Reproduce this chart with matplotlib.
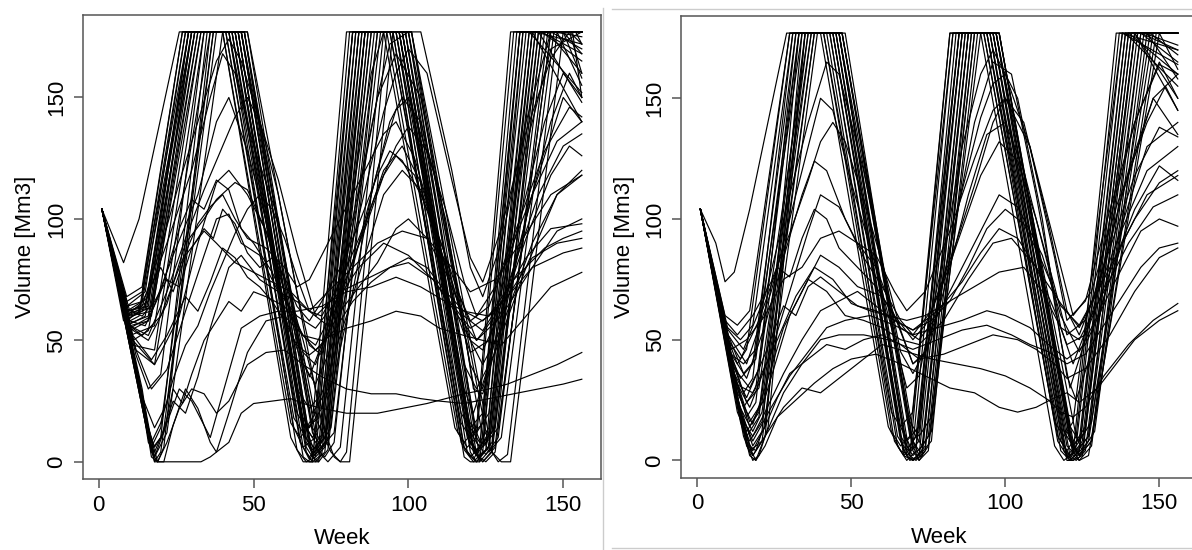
import matplotlib.pyplot as plt
from matplotlib.lines import Line2D

plt.rcParams['font.family'] = ['Liberation Sans', 'DejaVu Sans']

# turning points (week, volume in Mm3) of each simulated run
left_full = [
    [(1, 104), (8, 82), (13, 100), (26, 177), (40, 177), (62, 10), (66, 0), (69, 0), (81, 177), (96, 177), (118, 5), (121, 0), (124, 4), (136, 177), (156, 177)],
    [(1, 104), (9, 68), (14, 72), (27, 177), (42, 177), (64, 5), (67, 0), (70, 2), (82, 177), (95, 177), (117, 8), (120, 2), (123, 6), (135, 177), (156, 177)],
    [(1, 104), (9, 64), (15, 70), (28, 177), (43, 177), (65, 8), (68, 2), (71, 6), (83, 177), (97, 177), (119, 4), (122, 0), (125, 5), (137, 177), (150, 177), (156, 168)],
    [(1, 104), (9, 60), (16, 68), (29, 177), (44, 177), (66, 6), (68, 1), (72, 8), (84, 177), (96, 177), (118, 6), (121, 1), (124, 8), (138, 177), (152, 177), (156, 160)],
    [(1, 104), (8, 58), (17, 64), (30, 177), (45, 177), (66, 12), (69, 5), (73, 10), (85, 177), (98, 177), (120, 8), (122, 3), (126, 10), (139, 177), (156, 177)],
    [(1, 104), (9, 56), (15, 60), (31, 177), (44, 177), (67, 4), (69, 0), (72, 3), (86, 177), (97, 177), (119, 10), (122, 5), (127, 12), (140, 177), (153, 177), (156, 150)],
    [(1, 104), (10, 54), (16, 58), (32, 177), (46, 177), (67, 14), (70, 8), (74, 14), (86, 177), (99, 177), (121, 6), (123, 2), (127, 8), (141, 177), (156, 172)],
    [(1, 104), (10, 52), (18, 56), (33, 177), (47, 177), (68, 10), (70, 3), (74, 8), (87, 177), (100, 177), (122, 3), (124, 0), (128, 6), (142, 177), (156, 177)],
    [(1, 104), (12, 40), (16, 8), (18, 4), (20, 10), (35, 177), (45, 177), (67, 8), (70, 2), (73, 6), (88, 177), (98, 177), (120, 12), (123, 6), (128, 14), (143, 177), (156, 165)],
    [(1, 104), (13, 34), (17, 2), (19, 0), (21, 6), (36, 177), (47, 177), (69, 2), (71, 0), (74, 5), (89, 177), (99, 177), (121, 4), (124, 0), (127, 4), (144, 177), (156, 177)],
    [(1, 104), (14, 28), (17, 6), (20, 14), (37, 177), (48, 177), (70, 6), (73, 2), (76, 8), (90, 177), (100, 177), (122, 8), (125, 3), (129, 10), (145, 177), (156, 160)],
    [(1, 104), (15, 20), (18, 0), (20, 4), (38, 177), (46, 177), (69, 12), (72, 6), (76, 12), (91, 177), (101, 177), (123, 2), (125, 0), (128, 4), (146, 177), (156, 170)],
    [(1, 104), (16, 10), (18, 2), (22, 12), (40, 177), (47, 177), (71, 4), (74, 0), (78, 6), (92, 177), (101, 177), (124, 10), (126, 4), (130, 10), (147, 177), (156, 175)],
    [(1, 104), (9, 62), (14, 66), (30, 177), (48, 177), (72, 16), (76, 2), (78, 0), (80, 4), (93, 177), (100, 177), (126, 6), (129, 0), (132, 3), (148, 177), (156, 155)],
    [(1, 104), (10, 58), (13, 60), (28, 177), (41, 177), (63, 14), (66, 6), (70, 10), (82, 177), (93, 177), (116, 12), (119, 6), (122, 10), (134, 177), (156, 177)],
    [(1, 104), (9, 66), (14, 70), (27, 177), (40, 177), (62, 16), (65, 10), (69, 16), (80, 177), (92, 177), (115, 14), (118, 8), (122, 14), (133, 177), (150, 177), (156, 158)],
    [(1, 104), (10, 60), (17, 62), (31, 177), (43, 177), (66, 2), (68, 0), (71, 0), (84, 177), (95, 177), (118, 2), (120, 0), (123, 0), (137, 177), (156, 177)],
    [(1, 104), (11, 50), (16, 54), (33, 177), (45, 177), (67, 6), (69, 2), (73, 8), (86, 177), (98, 177), (120, 4), (122, 0), (126, 6), (140, 177), (156, 140)],
    [(1, 104), (9, 62), (16, 64), (29, 177), (42, 177), (64, 20), (67, 14), (71, 18), (83, 177), (94, 177), (117, 16), (120, 10), (124, 16), (136, 177), (156, 177)],
    [(1, 104), (12, 44), (16, 30), (20, 36), (34, 177), (46, 177), (68, 8), (71, 4), (74, 10), (88, 177), (97, 177), (120, 6), (123, 2), (126, 6), (142, 177), (156, 148)],
    [(1, 104), (12, 46), (18, 40), (36, 177), (46, 177), (70, 18), (75, 4), (78, 0), (81, 0), (95, 177), (101, 177), (127, 4), (130, 0), (133, 0), (150, 177), (156, 177)],
    [(1, 104), (9, 58), (13, 62), (29, 177), (41, 177), (63, 18), (66, 12), (70, 20), (82, 177), (94, 177), (117, 20), (120, 14), (124, 20), (136, 177), (154, 177), (156, 172)],
    [(1, 104), (10, 55), (17, 60), (32, 177), (45, 177), (67, 10), (69, 4), (72, 10), (86, 177), (97, 177), (120, 10), (122, 4), (126, 12), (141, 177), (156, 177)],
    [(1, 104), (11, 48), (18, 46), (34, 177), (46, 177), (68, 6), (70, 0), (73, 4), (87, 177), (98, 177), (121, 6), (123, 0), (127, 6), (143, 177), (156, 168)],
    [(1, 104), (13, 30), (18, 14), (22, 24), (37, 177), (47, 177), (69, 14), (72, 8), (75, 14), (90, 177), (99, 177), (122, 12), (124, 6), (129, 14), (146, 177), (156, 177)],
    [(1, 104), (9, 60), (15, 64), (30, 177), (43, 177), (65, 20), (68, 14), (72, 22), (84, 177), (96, 177), (119, 18), (122, 12), (126, 20), (139, 177), (156, 152)],
    [(1, 104), (10, 62), (16, 66), (31, 177), (44, 177), (66, 16), (69, 10), (72, 16), (85, 177), (97, 177), (120, 14), (123, 8), (126, 14), (140, 177), (156, 177)],
]

left_partial = [
    [(1, 104), (9, 60), (14, 62), (22, 90), (30, 120), (36, 150), (40, 168), (44, 160), (50, 130), (58, 100), (66, 40), (69, 20), (74, 30), (82, 110), (88, 160), (92, 177), (98, 177), (118, 30), (121, 20), (126, 40), (136, 120), (146, 170), (156, 177)],
    [(1, 104), (10, 56), (16, 58), (24, 85), (32, 110), (38, 140), (42, 150), (48, 128), (56, 90), (64, 50), (68, 35), (74, 55), (82, 100), (90, 150), (96, 168), (104, 150), (114, 80), (120, 40), (124, 30), (130, 60), (140, 110), (150, 150), (156, 140)],
    [(1, 104), (11, 50), (18, 40), (26, 60), (32, 90), (38, 115), (42, 120), (48, 110), (54, 95), (60, 70), (66, 45), (70, 40), (76, 60), (84, 90), (92, 120), (98, 130), (104, 115), (112, 80), (118, 40), (122, 30), (128, 45), (138, 80), (148, 110), (156, 120)],
    [(1, 104), (10, 56), (14, 52), (20, 60), (26, 80), (32, 98), (36, 105), (40, 110), (44, 100), (48, 92), (54, 88), (60, 80), (64, 72), (68, 75), (74, 90), (80, 105), (86, 120), (92, 135), (96, 140), (102, 125), (110, 90), (116, 60), (120, 45), (126, 50), (134, 80), (142, 110), (150, 130), (156, 135)],
    [(1, 104), (10, 55), (16, 50), (22, 65), (28, 90), (34, 100), (38, 108), (44, 115), (48, 112), (54, 95), (60, 75), (66, 50), (70, 30), (72, 22), (76, 35), (82, 70), (88, 110), (94, 140), (98, 150), (104, 140), (112, 100), (118, 55), (121, 30), (124, 28), (130, 55), (138, 100), (146, 140), (152, 160), (156, 150)],
    [(1, 104), (9, 61), (15, 63), (29, 177), (42, 177), (60, 60), (66, 40), (70, 32), (76, 50), (84, 90), (90, 120), (96, 145), (100, 150), (108, 120), (116, 70), (122, 50), (128, 60), (136, 100), (144, 140), (150, 160), (156, 150)],
    [(1, 104), (10, 57), (16, 60), (30, 177), (44, 177), (64, 30), (68, 22), (72, 28), (80, 60), (86, 85), (92, 110), (98, 120), (104, 112), (112, 85), (118, 55), (124, 40), (130, 55), (140, 90), (148, 110), (156, 118)],
    [(1, 104), (9, 63), (14, 60), (18, 66), (22, 75), (26, 72), (30, 88), (34, 96), (37, 92), (40, 104), (44, 98), (48, 86), (52, 80), (56, 84), (60, 76), (64, 64), (68, 58), (72, 66), (78, 80), (84, 98), (90, 118), (94, 128), (98, 124), (104, 110), (110, 92), (116, 70), (120, 58), (126, 64), (132, 84), (140, 110), (148, 132), (156, 140)],
    [(1, 104), (10, 58), (15, 56), (20, 70), (26, 96), (30, 108), (34, 104), (38, 116), (42, 112), (46, 96), (50, 90), (56, 78), (62, 62), (66, 52), (70, 48), (74, 58), (80, 76), (86, 96), (92, 118), (96, 126), (102, 118), (108, 96), (114, 74), (120, 50), (124, 46), (130, 62), (138, 92), (146, 118), (152, 130), (156, 126)],
    [(1, 104), (9, 62), (14, 64), (20, 88), (26, 115), (32, 140), (38, 165), (42, 174), (46, 165), (52, 140), (58, 110), (64, 70), (68, 48), (72, 44), (78, 70), (84, 110), (90, 150), (94, 172), (100, 177), (104, 177), (114, 120), (120, 80), (124, 68), (130, 90), (138, 140), (146, 177), (156, 177)],
    [(1, 104), (10, 56), (16, 52), (22, 70), (28, 92), (34, 112), (40, 130), (44, 142), (48, 150), (52, 140), (58, 116), (64, 86), (70, 60), (74, 56), (80, 80), (86, 112), (92, 144), (96, 160), (100, 170), (106, 160), (114, 116), (120, 84), (124, 74), (130, 96), (138, 136), (146, 166), (152, 177), (156, 172)],
]

left_low = [
    [(1, 104), (12, 46), (17, 30), (22, 38), (28, 62), (34, 85), (38, 100), (42, 102), (46, 90), (52, 85), (58, 70), (64, 60), (70, 55), (76, 65), (84, 80), (92, 90), (100, 85), (108, 75), (116, 60), (122, 50), (130, 60), (140, 80), (148, 95), (156, 100)],
    [(1, 104), (14, 30), (17, 5), (20, 10), (24, 25), (28, 20), (32, 35), (36, 55), (42, 80), (46, 85), (52, 75), (58, 70), (64, 66), (70, 60), (78, 70), (86, 75), (94, 80), (100, 82), (108, 75), (114, 65), (120, 55), (126, 60), (134, 75), (144, 88), (150, 92), (156, 95)],
    [(1, 104), (15, 22), (18, 2), (22, 16), (26, 30), (30, 25), (34, 15), (36, 10), (40, 28), (46, 55), (52, 60), (58, 62), (64, 62), (72, 64), (80, 70), (88, 72), (96, 76), (104, 72), (112, 66), (118, 62), (126, 60), (132, 68), (140, 80), (150, 86), (156, 88)],
    [(1, 104), (16, 14), (19, 0), (21, 0), (24, 15), (28, 30), (32, 22), (36, 8), (38, 4), (42, 20), (48, 45), (54, 58), (60, 60), (66, 52), (72, 50), (80, 55), (88, 58), (96, 62), (104, 60), (110, 55), (118, 52), (124, 50), (130, 48), (138, 60), (146, 72), (156, 78)],
    [(1, 104), (16, 10), (18, 0), (21, 0), (24, 0), (28, 0), (33, 0), (36, 2), (42, 8), (46, 20), (50, 24), (56, 25), (62, 26), (66, 24), (72, 22), (80, 20), (90, 20), (98, 22), (106, 24), (112, 26), (118, 28), (126, 30), (132, 32), (140, 36), (148, 40), (156, 45)],
    [(1, 104), (17, 4), (19, 0), (22, 8), (26, 22), (30, 30), (34, 28), (38, 20), (42, 25), (48, 40), (54, 45), (60, 46), (66, 40), (72, 35), (80, 30), (88, 28), (96, 28), (104, 26), (110, 25), (118, 24), (126, 26), (134, 28), (142, 30), (150, 32), (156, 34)],
    [(1, 104), (9, 64), (14, 66), (20, 80), (24, 70), (28, 85), (34, 95), (38, 90), (44, 82), (50, 78), (56, 74), (62, 70), (68, 62), (74, 70), (82, 80), (90, 90), (98, 95), (106, 92), (114, 80), (120, 70), (128, 75), (136, 90), (146, 110), (156, 118)],
    [(1, 104), (11, 52), (17, 42), (22, 52), (28, 68), (32, 62), (36, 74), (40, 88), (44, 84), (48, 76), (52, 72), (56, 66), (60, 58), (64, 48), (68, 44), (72, 48), (78, 62), (84, 72), (90, 82), (96, 96), (100, 100), (106, 92), (112, 78), (118, 60), (124, 54), (130, 66), (138, 84), (146, 96), (156, 98)],
    [(1, 104), (15, 18), (18, 6), (21, 12), (24, 30), (27, 24), (30, 36), (34, 50), (38, 58), (42, 66), (46, 62), (50, 70), (54, 68), (60, 64), (66, 52), (70, 46), (76, 54), (82, 66), (88, 74), (94, 80), (100, 84), (106, 80), (112, 70), (118, 62), (124, 58), (132, 68), (140, 84), (148, 90), (156, 92)],
    [(1, 104), (14, 26), (17, 8), (20, 16), (24, 34), (28, 48), (32, 56), (36, 70), (40, 82), (44, 94), (48, 104), (52, 110), (56, 104), (60, 92), (64, 76), (68, 62), (72, 60), (78, 74), (84, 92), (90, 112), (96, 130), (100, 138), (106, 128), (112, 104), (118, 74), (122, 60), (128, 72), (136, 100), (144, 128), (152, 146), (156, 142)],
]

right_full = [
    [(1, 104), (6, 90), (9, 74), (12, 78), (17, 104), (29, 177), (40, 177), (62, 14), (66, 4), (69, 2), (82, 177), (92, 177), (116, 6), (119, 0), (122, 3), (136, 177), (156, 177)],
    [(1, 104), (10, 50), (13, 40), (16, 46), (30, 177), (42, 177), (64, 8), (67, 2), (70, 6), (83, 177), (94, 177), (117, 8), (120, 2), (123, 6), (138, 177), (156, 170)],
    [(1, 104), (11, 42), (15, 28), (18, 34), (31, 177), (43, 177), (65, 6), (68, 0), (71, 4), (84, 177), (95, 177), (118, 4), (121, 0), (124, 4), (139, 177), (156, 177)],
    [(1, 104), (12, 36), (16, 18), (19, 24), (32, 177), (44, 177), (66, 10), (69, 4), (72, 8), (85, 177), (94, 177), (119, 6), (121, 1), (125, 8), (140, 177), (156, 160)],
    [(1, 104), (13, 26), (17, 6), (19, 4), (21, 12), (33, 177), (45, 177), (67, 4), (69, 0), (72, 2), (86, 177), (96, 177), (120, 2), (122, 0), (125, 4), (141, 177), (156, 177)],
    [(1, 104), (14, 18), (17, 2), (19, 0), (22, 10), (34, 177), (46, 177), (68, 6), (70, 2), (73, 6), (87, 177), (97, 177), (121, 8), (123, 3), (127, 10), (142, 177), (156, 150)],
    [(1, 104), (15, 10), (18, 0), (20, 2), (23, 14), (35, 177), (46, 177), (69, 2), (71, 0), (74, 4), (88, 177), (96, 177), (121, 2), (123, 0), (126, 4), (143, 177), (156, 177)],
    [(1, 104), (12, 38), (17, 30), (20, 38), (36, 177), (47, 177), (69, 10), (72, 4), (75, 10), (89, 177), (97, 177), (122, 6), (124, 2), (128, 8), (144, 177), (156, 165)],
    [(1, 104), (9, 56), (14, 50), (18, 56), (31, 177), (41, 177), (63, 12), (66, 6), (69, 10), (83, 177), (93, 177), (117, 10), (120, 4), (123, 10), (137, 177), (156, 177)],
    [(1, 104), (10, 48), (16, 24), (20, 30), (37, 177), (48, 177), (70, 4), (72, 0), (75, 4), (90, 177), (98, 177), (122, 4), (124, 0), (128, 6), (145, 177), (156, 172)],
    [(1, 104), (13, 24), (18, 12), (21, 20), (38, 177), (47, 177), (70, 12), (73, 6), (76, 12), (91, 177), (97, 177), (123, 10), (125, 4), (129, 12), (146, 177), (156, 158)],
    [(1, 104), (11, 44), (15, 40), (19, 46), (34, 177), (44, 177), (66, 14), (68, 8), (72, 14), (86, 177), (95, 177), (119, 12), (122, 6), (126, 14), (141, 177), (156, 177)],
    [(1, 104), (14, 16), (17, 4), (21, 8), (39, 177), (46, 177), (69, 16), (72, 10), (76, 18), (92, 177), (98, 177), (121, 14), (124, 8), (128, 16), (147, 177), (156, 168)],
    [(1, 104), (12, 30), (18, 6), (22, 14), (35, 177), (45, 177), (67, 2), (70, 0), (73, 2), (87, 177), (96, 177), (120, 0), (122, 0), (125, 2), (142, 177), (156, 177)],
    [(1, 104), (10, 52), (15, 36), (19, 42), (33, 177), (43, 177), (65, 10), (68, 4), (71, 10), (85, 177), (94, 177), (118, 8), (121, 2), (124, 8), (139, 177), (156, 155)],
    [(1, 104), (13, 22), (16, 10), (20, 18), (36, 177), (46, 177), (68, 4), (70, 0), (74, 6), (88, 177), (97, 177), (120, 6), (123, 2), (127, 8), (148, 177), (156, 177)],
    [(1, 104), (11, 40), (17, 16), (21, 24), (37, 177), (47, 177), (70, 8), (72, 2), (76, 8), (89, 177), (98, 177), (122, 2), (124, 0), (127, 2), (150, 177), (156, 162)],
    [(1, 104), (10, 46), (14, 34), (18, 40), (32, 177), (44, 177), (66, 8), (68, 2), (71, 6), (85, 177), (95, 177), (119, 4), (121, 0), (124, 4), (140, 177), (156, 177)],
    [(1, 104), (12, 28), (16, 12), (20, 20), (35, 177), (46, 177), (68, 2), (70, 0), (73, 4), (88, 177), (97, 177), (121, 10), (123, 4), (127, 10), (144, 177), (156, 170)],
    [(1, 104), (9, 60), (13, 56), (17, 62), (30, 177), (41, 177), (63, 20), (66, 14), (70, 20), (82, 177), (93, 177), (116, 16), (119, 10), (122, 16), (138, 177), (156, 164)],
    [(1, 104), (13, 20), (17, 8), (21, 16), (38, 177), (47, 177), (70, 6), (72, 0), (75, 6), (90, 177), (98, 177), (122, 8), (124, 2), (128, 8), (149, 177), (156, 177)],
    [(1, 104), (11, 38), (15, 22), (19, 30), (33, 177), (45, 177), (67, 12), (69, 6), (72, 12), (86, 177), (96, 177), (120, 12), (122, 6), (126, 12), (142, 177), (156, 145)],
]

right_partial = [
    [(1, 104), (10, 52), (16, 40), (24, 70), (30, 100), (36, 130), (40, 150), (44, 145), (50, 115), (58, 80), (64, 50), (68, 30), (72, 35), (80, 85), (86, 130), (92, 160), (96, 170), (104, 150), (112, 100), (118, 50), (121, 30), (126, 50), (134, 100), (142, 140), (150, 165), (156, 150)],
    [(1, 104), (12, 34), (17, 22), (24, 45), (30, 70), (36, 95), (40, 110), (46, 105), (52, 90), (58, 80), (64, 60), (70, 40), (74, 45), (80, 70), (88, 110), (94, 135), (100, 140), (106, 120), (114, 80), (120, 35), (123, 25), (128, 45), (136, 90), (146, 130), (156, 140)],
    [(1, 104), (11, 46), (16, 50), (22, 60), (28, 75), (34, 80), (40, 92), (46, 95), (52, 90), (58, 85), (64, 70), (68, 62), (74, 70), (82, 95), (90, 125), (96, 145), (100, 150), (108, 130), (116, 90), (122, 60), (128, 70), (136, 105), (146, 140), (152, 155), (156, 145)],
    [(1, 104), (10, 54), (15, 46), (22, 68), (30, 110), (36, 140), (42, 165), (46, 160), (54, 120), (62, 70), (66, 45), (70, 36), (76, 50), (84, 100), (90, 140), (96, 165), (102, 160), (110, 110), (118, 55), (122, 40), (128, 60), (138, 110), (148, 150), (156, 135)],
    [(1, 104), (10, 50), (14, 42), (20, 58), (26, 80), (30, 76), (34, 92), (38, 104), (42, 100), (46, 88), (52, 80), (58, 72), (64, 60), (70, 50), (74, 56), (80, 74), (86, 96), (92, 118), (98, 132), (104, 124), (110, 100), (116, 72), (120, 52), (126, 58), (134, 88), (142, 118), (150, 138), (156, 134)],
    [(1, 104), (11, 44), (16, 34), (22, 56), (28, 84), (34, 110), (38, 124), (42, 120), (48, 100), (54, 84), (60, 72), (66, 58), (70, 52), (76, 62), (84, 90), (90, 114), (96, 140), (100, 150), (106, 140), (114, 98), (120, 62), (124, 52), (130, 72), (140, 120), (148, 150), (156, 160)],
    [(1, 104), (9, 58), (13, 52), (18, 60), (24, 74), (30, 94), (36, 116), (40, 132), (44, 140), (48, 132), (54, 108), (60, 82), (66, 54), (70, 40), (74, 44), (80, 76), (86, 112), (92, 142), (96, 156), (100, 160), (108, 130), (116, 84), (120, 58), (126, 66), (134, 104), (142, 140), (150, 164), (156, 160)],
]

right_low = [
    [(1, 104), (13, 28), (18, 15), (22, 30), (28, 55), (34, 70), (40, 85), (46, 80), (52, 72), (60, 68), (66, 55), (72, 50), (78, 60), (86, 80), (92, 95), (98, 110), (104, 105), (112, 85), (118, 60), (124, 45), (130, 60), (138, 90), (146, 110), (156, 118)],
    [(1, 104), (14, 20), (18, 8), (24, 22), (30, 35), (36, 45), (42, 55), (48, 58), (56, 60), (64, 56), (70, 52), (78, 55), (86, 58), (94, 62), (100, 60), (108, 55), (114, 48), (120, 42), (126, 48), (134, 70), (144, 95), (150, 100), (156, 97)],
    [(1, 104), (15, 14), (18, 2), (22, 10), (28, 28), (34, 40), (40, 50), (46, 52), (54, 52), (62, 50), (70, 46), (78, 50), (86, 54), (94, 56), (102, 52), (108, 48), (114, 45), (120, 40), (126, 44), (134, 60), (144, 80), (150, 88), (156, 90)],
    [(1, 104), (16, 8), (19, 0), (22, 6), (26, 18), (32, 25), (38, 32), (44, 38), (50, 42), (58, 44), (66, 40), (74, 35), (82, 30), (90, 28), (98, 22), (104, 20), (110, 22), (116, 26), (120, 28), (124, 24), (130, 30), (136, 40), (142, 50), (150, 58), (156, 62)],
    [(1, 104), (16, 6), (18, 2), (22, 10), (28, 22), (34, 30), (40, 28), (46, 34), (52, 40), (60, 48), (68, 45), (76, 42), (84, 40), (92, 38), (100, 35), (108, 30), (114, 25), (118, 20), (122, 18), (126, 22), (132, 35), (140, 48), (148, 58), (156, 65)],
    [(1, 104), (12, 32), (18, 28), (26, 50), (32, 68), (38, 80), (44, 75), (50, 65), (56, 62), (62, 60), (68, 58), (74, 60), (82, 66), (90, 72), (98, 78), (106, 80), (112, 70), (118, 55), (124, 50), (132, 70), (140, 90), (148, 105), (156, 110)],
    [(1, 104), (13, 30), (17, 14), (22, 26), (30, 60), (36, 75), (42, 70), (48, 60), (54, 58), (60, 55), (66, 50), (72, 48), (80, 58), (88, 75), (96, 90), (102, 92), (110, 80), (118, 65), (124, 55), (132, 75), (142, 100), (150, 115), (156, 120)],
    [(1, 104), (12, 36), (16, 26), (22, 44), (28, 64), (32, 60), (36, 72), (40, 76), (46, 70), (52, 64), (58, 62), (64, 58), (70, 54), (76, 58), (82, 66), (88, 80), (94, 96), (100, 104), (106, 98), (112, 82), (118, 64), (124, 56), (130, 70), (138, 96), (146, 120), (156, 130)],
    [(1, 104), (15, 12), (18, 4), (22, 14), (26, 26), (30, 36), (36, 42), (42, 48), (48, 46), (54, 50), (60, 52), (66, 48), (72, 42), (80, 44), (88, 48), (96, 52), (104, 50), (110, 46), (116, 40), (120, 34), (126, 38), (134, 52), (142, 70), (150, 84), (156, 88)],
    [(1, 104), (14, 18), (18, 10), (22, 20), (28, 36), (34, 50), (40, 62), (46, 66), (52, 70), (58, 64), (64, 58), (70, 54), (78, 62), (86, 74), (92, 86), (98, 96), (104, 92), (110, 80), (116, 62), (120, 48), (126, 52), (134, 78), (142, 104), (150, 122), (156, 116)],
]

ticks = [0, 50, 100, 150]
FS = 16


def panel(ax, groups):
    for runs in groups:
        for run in runs:
            ax.plot([p[0] for p in run], [p[1] for p in run], color='black', lw=0.85)
    ax.set_xlim(-5.2, 162.2)
    ax.set_ylim(-7.08, 184.08)
    ax.set_xticks(ticks)
    ax.set_yticks(ticks)
    ax.set_xticklabels([str(t) for t in ticks], fontsize=FS)
    ax.set_yticklabels([str(t) for t in ticks], fontsize=FS, rotation=90, va='center')
    ax.tick_params(length=6.3, width=1.1, color='#555555', pad=5)
    for s in ax.spines.values():
        s.set_color('#555555')
        s.set_linewidth(1.1)
    ax.set_xlabel('Week', fontsize=FS, labelpad=9)
    ax.set_ylabel('Volume [Mm3]', fontsize=FS, labelpad=7)


fig = plt.figure(figsize=(11.92, 5.5), dpi=100)
ax1 = fig.add_axes([82.7 / 1192, 71 / 550, 518.3 / 1192, 464.3 / 550])
ax2 = fig.add_axes([681.3 / 1192, 72.5 / 550, 515.6 / 1192, 461.5 / 550])
panel(ax1, [left_full, left_partial, left_low])
panel(ax2, [right_full, right_partial, right_low])

# thin screenshot borders round the right picture
grey = '#cccccc'
fig.add_artist(Line2D([603.3 / 1192, 603.3 / 1192], [0, 1 - 8 / 550], transform=fig.transFigure, color=grey, lw=1))
fig.add_artist(Line2D([612 / 1192, 1], [1 - 9.3 / 550, 1 - 9.3 / 550], transform=fig.transFigure, color=grey, lw=1))
fig.add_artist(Line2D([612 / 1192, 1], [1 - 548.3 / 550, 1 - 548.3 / 550], transform=fig.transFigure, color=grey, lw=1))

fig.savefig('out.png', dpi=100)
